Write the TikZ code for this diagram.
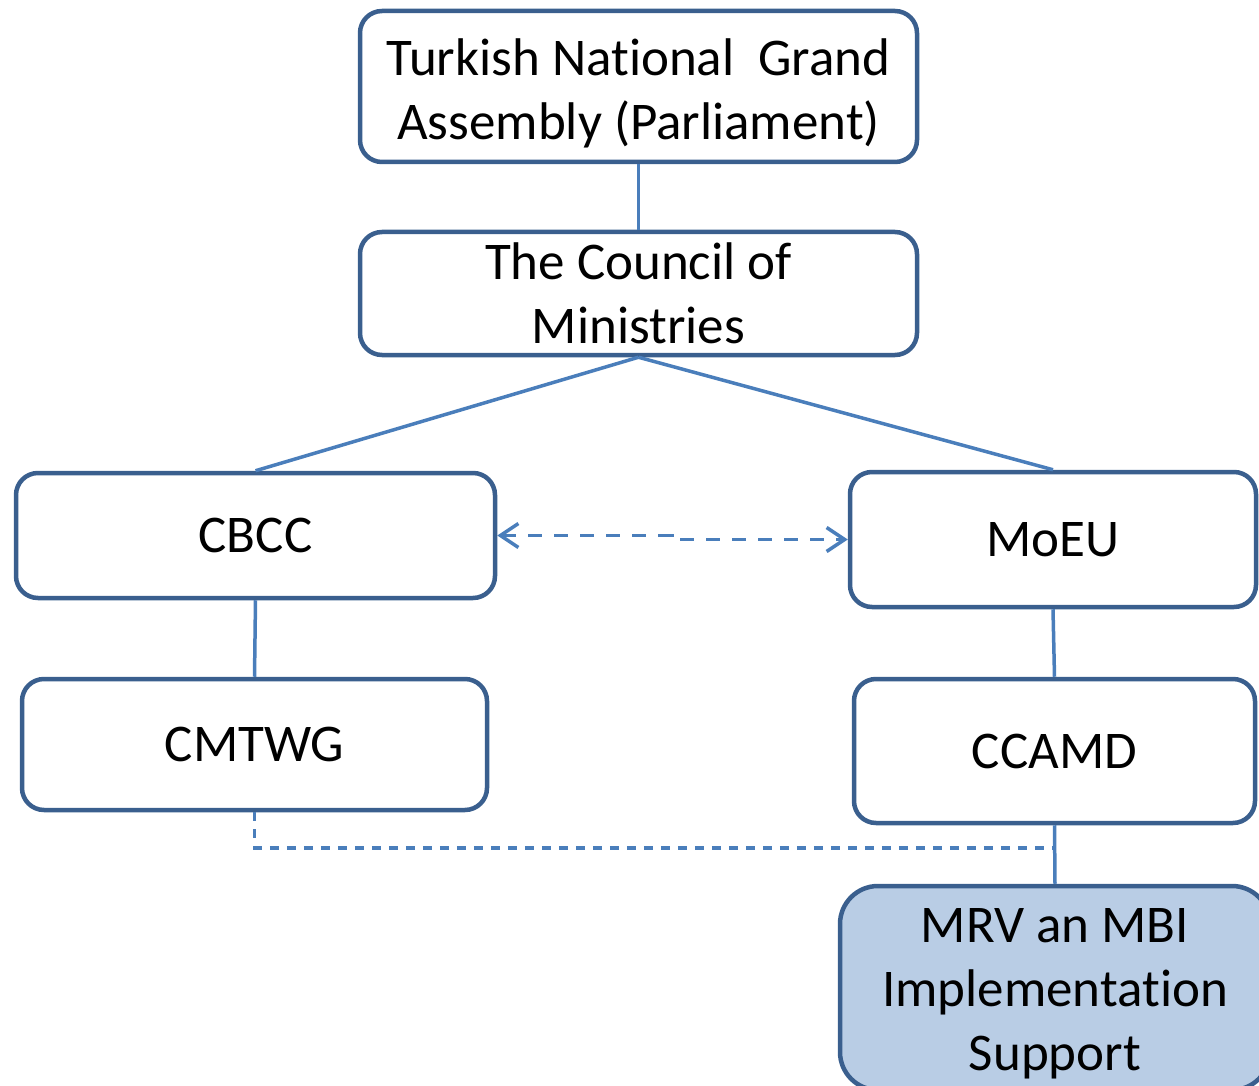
\documentclass[tikz,border=0pt]{standalone}
\usepackage{fontspec}
\setmainfont{Carlito}[RawFeature=-liga]
\usetikzlibrary{arrows.meta}
\definecolor{boxline}{HTML}{3A5F8E}
\definecolor{connline}{HTML}{4A7EBB}
\definecolor{mrvfill}{HTML}{B9CDE5}
\tikzset{
  orgbox/.style={draw=boxline, line width=4.5pt, rounded corners=22pt, fill=white,
    align=center, inner sep=0pt, font=\fontsize{53}{64}\selectfont},
  conn/.style={draw=connline, line width=3.5pt},
  dconn/.style={draw=connline, line width=3.5pt, dash pattern=on 14pt off 12pt},
  dconnb/.style={draw=connline, line width=3.5pt, dash pattern=on 9pt off 8pt},
  barbtip/.tip={Straight Barb[length=18pt,width=24pt,line width=3.5pt]}
}
\begin{document}
\begin{tikzpicture}[x=1pt,y=-1pt]
\useasboundingbox (0,0) rectangle (1259,1086);
\clip (0,0) rectangle (1259,1086);
\node[orgbox, minimum width=557pt, minimum height=151pt] (tnga) at (638.5,86.5)
  {\rule{0pt}{50pt}Turkish National\ \ Grand\\Assembly (Parliament)};
\node[orgbox, minimum width=557pt, minimum height=123pt] (com) at (638.5,293.5)
  {The Council of\\Ministries};
\node[orgbox, minimum width=479pt, minimum height=125pt] (cbcc) at (255.5,535.5) {CBCC};
\node[orgbox, minimum width=406pt, minimum height=135pt] (moeu) at (1053,539.5) {MoEU};
\node[orgbox, minimum width=465pt, minimum height=131pt] (cmtwg) at (254.5,744.5) {CMTWG};
\node[orgbox, minimum width=401pt, minimum height=144pt] (ccamd) at (1054.5,751) {CCAMD};
\node[orgbox, fill=mrvfill, rounded corners=38pt, minimum width=430pt, minimum height=204pt] (mrv) at (1055,988)
  {\rule{0pt}{46pt}MRV an MBI\\Implementation\\Support};

\draw[conn] (tnga.south) -- (com.north);
\draw[conn] (com.south) -- (cbcc.north);
\draw[conn] (com.south) -- (moeu.north);
\draw[conn] (cbcc.south) -- (cmtwg.north);
\draw[conn] (moeu.south) -- (ccamd.north);
\draw[conn] (ccamd.south) -- (mrv.north);

\coordinate (kink) at (672,538);
\draw[dconn, barbtip-barbtip] (cbcc.east) -- (cbcc.east -| kink) -- (kink |- moeu.west) -- (moeu.west);

\coordinate (join) at (1054,848);
\draw[dconnb] (cmtwg.south) |- (join);
\end{tikzpicture}
\end{document}
